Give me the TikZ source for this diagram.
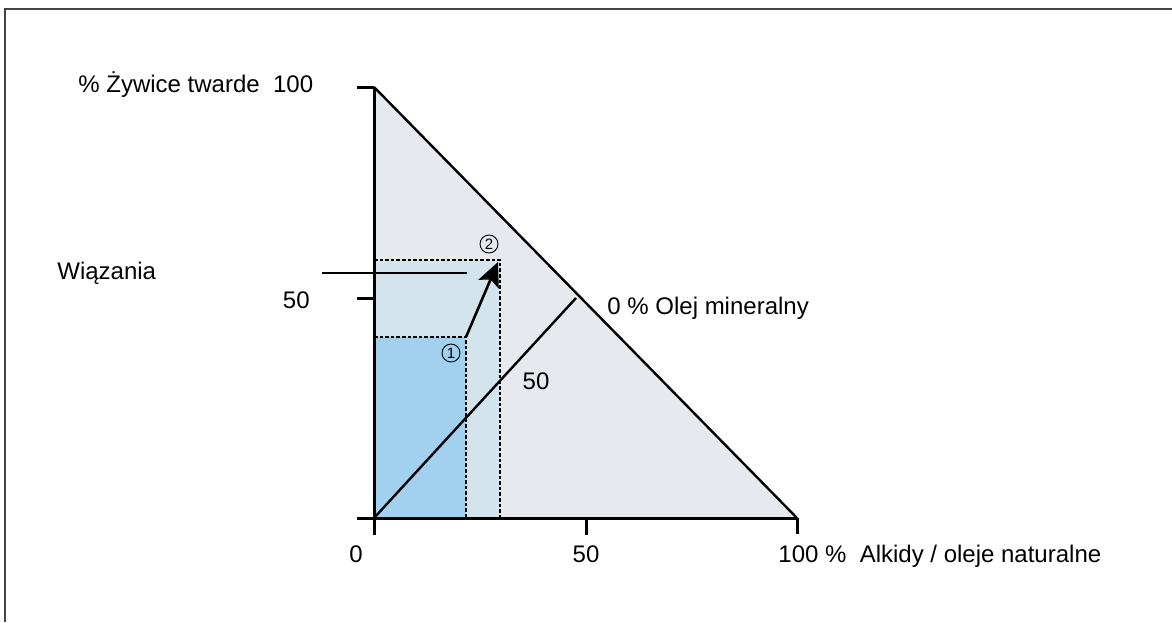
\documentclass[tikz,border=0pt]{standalone}
\usepackage{fontspec}
\setmainfont{Liberation Sans}
\usetikzlibrary{arrows.meta,positioning}
\definecolor{areagray}{HTML}{E6EAEE}
\definecolor{outerblue}{HTML}{D4E4EC}
\definecolor{innerblue}{HTML}{A1D1EE}
\definecolor{framegray}{HTML}{444444}
\tikzset{
  frameline/.style={line width=1pt, draw=framegray},
  axisline/.style={line width=1.5pt, draw=black},
  edgeline/.style={line width=1.2pt, draw=black},
  dashline/.style={line width=1.2pt, draw=black, dash pattern=on 1.8pt off 1pt},
  bigarr/.style={-{Stealth[length=12pt, width=11pt, inset=2.5pt]}, line width=1.3pt, draw=black},
  lbl/.style={inner sep=0pt, font=\fontsize{12}{14}\selectfont},
  marker/.style={circle, draw, line width=0.45pt, inner sep=0pt,
    minimum size=9pt, font=\fontsize{7.5}{8}\selectfont}
}
\begin{document}
\begin{tikzpicture}[x=0.5pt, y=-0.5pt]
  \useasboundingbox (0,0) rectangle (1172,622);
  % key points
  \coordinate (o) at (374,518);
  \coordinate (ytop) at (374,87);
  \coordinate (xend) at (797,518);
  \coordinate (ymid) at (374,298);
  \coordinate (xmid) at (586,518);
  \coordinate (diagend) at (576,298);
  \coordinate (q1) at (466,337);
  \coordinate (q2) at (500,260);
  \coordinate (tip) at (498,262);
  \coordinate (linkstart) at (322,273);
  \coordinate (linkend) at (467,273);
  % areas
  \fill[areagray] (o) -- (ytop) -- (xend) -- cycle;
  \fill[outerblue] (o) rectangle (q2);
  \fill[innerblue] (o) rectangle (q1);
  % frame
  \draw[frameline] (4.5,622) -- (4.5,9) -- (1172,9);
  % boxes
  \draw[dashline] (ymid |- q2) -- (q2) -- (q2 |- o);
  \draw[dashline] (ymid |- q1) -- (q1) -- (q1 |- o);
  % axes and ticks
  \draw[axisline] (357,518) -- (xend);
  \draw[axisline] (ytop) -- (374,535);
  \draw[axisline] (357,87) -- (ytop);
  \draw[axisline] (357,298) -- (ymid);
  \draw[axisline] (xmid) -- (586,535);
  \draw[axisline] (xend) -- (797,534);
  \draw[edgeline] (ytop) -- (xend);
  \draw[edgeline] (o) -- (diagend);
  \draw[edgeline] (linkstart) -- (linkend);
  \draw[bigarr] (q1) -- (tip);
  % labels
  \node[lbl, anchor=base west] (resin) at (78,92) {\% Żywice twarde\ \ 100};
  \node[lbl, anchor=base west] (binder) at (57,279) {Wiązania};
  \node[lbl, anchor=base east] (yfifty) at (310,308) {50};
  \node[lbl, anchor=base] (xzero) at (356,562) {0};
  \node[lbl, anchor=base] (xfifty) at (586,562) {50};
  \node[lbl, anchor=base west] (alkyd) at (778,562) {100 \%\ \ Alkidy / oleje naturalne};
  \node[lbl, anchor=base west] (mineral) at (607,314) {0 \% Olej mineralny};
  \node[lbl, anchor=base] (dfifty) at (536,389) {50};
  \node[marker] (m1) at (451,353) {1};
  \node[marker] (m2) at (489,244) {2};
\end{tikzpicture}
\end{document}
